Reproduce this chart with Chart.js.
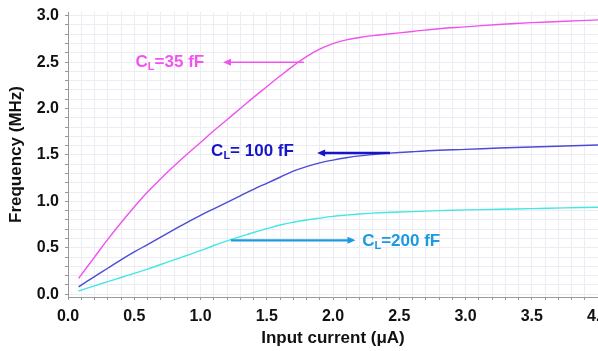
<!DOCTYPE html>
<html>
<head>
<meta charset="utf-8">
<script src="https://cdn.jsdelivr.net/npm/chart.js@4"></script>
<style>
  html, body { margin: 0; padding: 0; background: #fff; overflow: hidden; }
  #wrap { width: 640px; height: 351px; }
</style>
</head>
<body>
<div id="wrap"><canvas id="freqChart" width="640" height="351"></canvas></div>
<script>
// input current (uA) sample points, shared by all three curves
const currentUA = [0.08, 0.2, 0.3, 0.4, 0.5, 0.6, 0.7, 0.8, 0.9, 1.0, 1.1, 1.2, 1.3, 1.4, 1.5,
  1.6, 1.7, 1.8, 1.9, 2.0, 2.1, 2.2, 2.3, 2.4, 2.6, 2.8, 3.0, 3.25, 3.5, 3.75, 4.0];

// frequency (MHz) for each load capacitance
const freq35fF = [0.17, 0.40, 0.59, 0.77, 0.94, 1.10, 1.245, 1.38, 1.51, 1.635, 1.76, 1.88, 2.00, 2.12, 2.235,
  2.35, 2.46, 2.56, 2.64, 2.70, 2.74, 2.765, 2.785, 2.80, 2.83, 2.86, 2.88, 2.905, 2.925, 2.94, 2.955];
const freq100fF = [0.08, 0.19, 0.28, 0.37, 0.455, 0.535, 0.615, 0.695, 0.775, 0.85, 0.92, 0.99, 1.06, 1.13, 1.195,
  1.26, 1.325, 1.375, 1.415, 1.445, 1.47, 1.49, 1.505, 1.517, 1.535, 1.55, 1.56, 1.575, 1.585, 1.597, 1.607];
const freq200fF = [0.035, 0.09, 0.135, 0.18, 0.225, 0.27, 0.32, 0.37, 0.42, 0.47, 0.525, 0.575, 0.62, 0.665, 0.705,
  0.745, 0.775, 0.80, 0.82, 0.838, 0.852, 0.864, 0.873, 0.88, 0.89, 0.90, 0.908, 0.915, 0.922, 0.93, 0.937];

// grid lines every 0.1, labelled every 0.5
const xTickValues = Array.from({ length: 41 }, (_, i) => i / 10);
const yTickValues = Array.from({ length: 31 }, (_, i) => i / 10);

// callout labels ("C" + subscript "L" + rest) and their arrows, in data units
const calloutRest = ['=35 fF', '= 100 fF', '=200 fF'];
const calloutX = [0.51, 1.08, 2.22];
const calloutY = [2.5, 1.54, 0.57];
const arrowTailX = [1.78, 2.43, 1.23];
const arrowHeadX = [1.17, 1.88, 2.17];
const arrowY = [2.5, 1.52, 0.58];
const calloutColors = ['#f055f0', '#1616c8', '#1b9ae0'];
const arrowWidths = [1.5, 2.5, 2.2];

const lineColors = ['#ef52ef', '#4b4bd6', '#45e6e6'];

function toPoints(ys) {
  return currentUA.map((x, i) => ({ x: x, y: ys[i] }));
}

function halfStepLabel(value) {
  const v = Number(value);
  return Math.abs(v * 2 - Math.round(v * 2)) < 1e-6 ? v.toFixed(1) : '';
}

const callouts = {
  id: 'callouts',
  afterDatasetsDraw(chart) {
    const { ctx, scales: { x, y } } = chart;
    ctx.save();
    for (let i = 0; i < calloutRest.length; i++) {
      const color = calloutColors[i];
      // arrow
      const x0 = x.getPixelForValue(arrowTailX[i]);
      const x1 = x.getPixelForValue(arrowHeadX[i]);
      const yy = y.getPixelForValue(arrowY[i]);
      const dir = x1 > x0 ? 1 : -1;
      ctx.strokeStyle = color;
      ctx.fillStyle = color;
      ctx.lineWidth = arrowWidths[i];
      ctx.beginPath();
      ctx.moveTo(x0, yy);
      ctx.lineTo(x1 - dir * 5, yy);
      ctx.stroke();
      ctx.beginPath();
      ctx.moveTo(x1, yy);
      ctx.lineTo(x1 - dir * 8, yy - 3.5);
      ctx.lineTo(x1 - dir * 8, yy + 3.5);
      ctx.closePath();
      ctx.fill();

      // text
      let tx = x.getPixelForValue(calloutX[i]);
      const ty = y.getPixelForValue(calloutY[i]);
      ctx.textBaseline = 'middle';
      ctx.textAlign = 'left';
      ctx.font = 'bold 17px Arial, "Liberation Sans", sans-serif';
      ctx.fillText('C', tx, ty);
      tx += ctx.measureText('C').width;
      ctx.font = 'bold 11px Arial, "Liberation Sans", sans-serif';
      ctx.fillText('L', tx, ty + 5);
      tx += ctx.measureText('L').width;
      ctx.font = 'bold 17px Arial, "Liberation Sans", sans-serif';
      ctx.fillText(calloutRest[i], tx, ty);
    }
    ctx.restore();
  }
};

const tickFont = { family: 'Arial, "Liberation Sans", sans-serif', size: 16, weight: 'bold' };
const titleFont = { family: 'Arial, "Liberation Sans", sans-serif', size: 17, weight: 'bold' };

new Chart(document.getElementById('freqChart').getContext('2d'), {
  type: 'line',
  data: {
    datasets: [
      { label: 'CL=35 fF', data: toPoints(freq35fF), borderColor: lineColors[0] },
      { label: 'CL=100 fF', data: toPoints(freq100fF), borderColor: lineColors[1] },
      { label: 'CL=200 fF', data: toPoints(freq200fF), borderColor: lineColors[2] }
    ]
  },
  options: {
    responsive: false,
    animation: false,
    layout: { padding: { top: 12, right: 42, bottom: 2, left: 0 } },
    elements: {
      point: { radius: 0 },
      line: { borderWidth: 1.4, tension: 0.4, fill: false }
    },
    plugins: {
      legend: { display: false },
      tooltip: { enabled: false }
    },
    scales: {
      x: {
        type: 'linear',
        min: 0,
        max: 4.0,
        border: { color: '#999' },
        grid: { color: '#ececf2', tickColor: '#999', tickLength: 3 },
        afterBuildTicks(scale) { scale.ticks = xTickValues.map(v => ({ value: v })); },
        ticks: {
          autoSkip: false,
          maxRotation: 0,
          padding: 7,
          color: '#111',
          font: tickFont,
          callback: halfStepLabel
        },
        title: { display: true, text: 'Input current (μA)', color: '#111', font: titleFont, padding: { top: 2, bottom: 0 } },
        afterFit(scale) { scale.height = 52; }
      },
      y: {
        min: -0.03,
        max: 3.04,
        border: { color: '#999' },
        grid: { color: '#ececf2', tickColor: '#999', tickLength: 3 },
        afterBuildTicks(scale) { scale.ticks = yTickValues.map(v => ({ value: v })); },
        ticks: {
          autoSkip: false,
          padding: 6,
          color: '#111',
          font: tickFont,
          callback: halfStepLabel
        },
        title: { display: true, text: 'Frequency (MHz)', color: '#111', font: titleFont, padding: { top: 6, bottom: 4 } },
        afterFit(scale) {
          scale.width = 68;
          scale.paddingTop = 0;
          scale.paddingBottom = 0;
        }
      }
    }
  },
  plugins: [callouts]
});
</script>
</body>
</html>
